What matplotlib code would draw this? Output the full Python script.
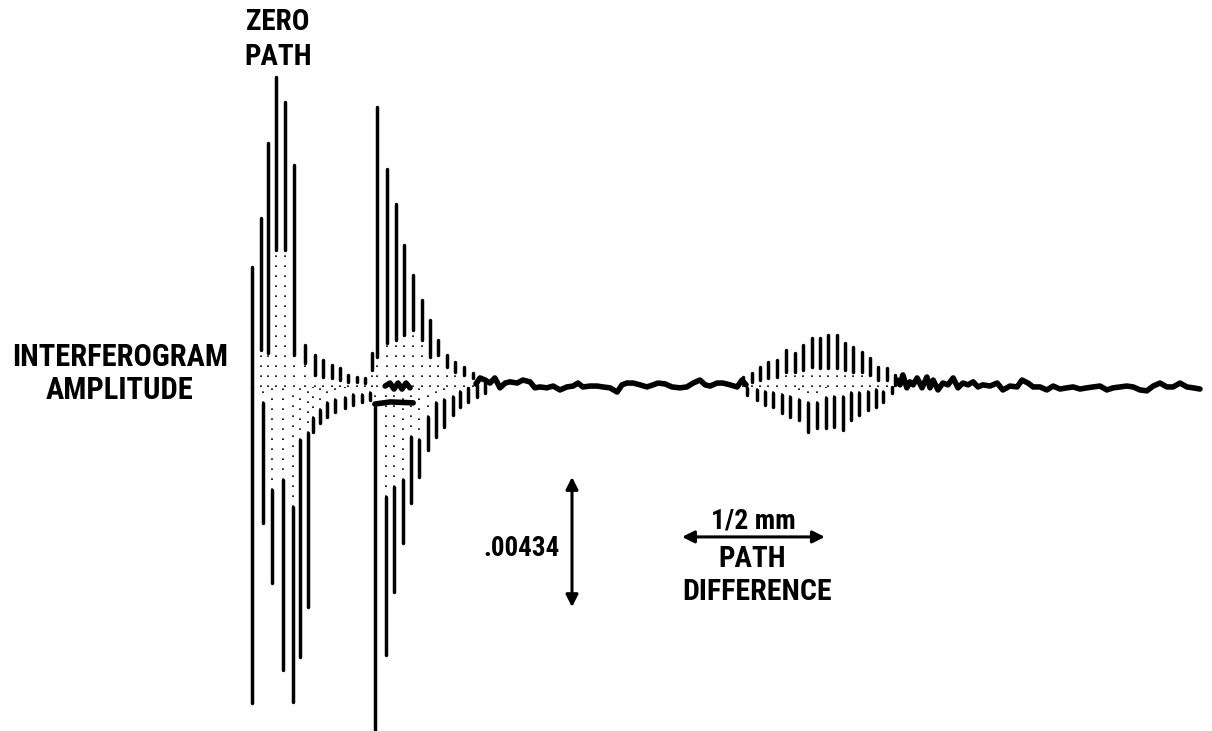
import matplotlib
matplotlib.use("Agg")
import matplotlib.pyplot as plt
from matplotlib import font_manager

# x: path difference in micrometres from zero path, y: amplitude in units of 0.001

# positive half of each fringe: position, peak, where the solid ink ends
up_x = [-84, -52, -28, 0, 32, 63,
        102, 136, 164, 196, 224, 252, 284, 312,
        336, 354, 388, 420, 448, 480, 511, 539, 567, 598, 626, 658, 690,
        1634, 1666, 1694, 1722, 1754, 1785, 1816, 1844, 1876, 1904, 1932,
        1964, 1992, 2020, 2051, 2079, 2107, 2138, 2166]
up_peak = [4.0, 5.63, 8.13, 10.33, 9.5, 7.4,
           1.4, 1.07, 0.9, 0.73, 0.63, 0.4, 0.33, 0.3,
           1.13, 9.33, 7.27, 6.1, 4.73, 3.73, 2.9, 2.23, 1.57, 1.07, 0.83, 0.67, 0.47,
           0.33, 0.47, 0.67, 0.83, 0.9, 1.23, 1.13, 1.4, 1.63, 1.63, 1.73,
           1.73, 1.47, 1.33, 1.17, 0.97, 0.67, 0.63, 0.4]
up_inner = [0.0, 1.23, 1.13, 4.57, 4.57, 1.07,
            0.8, 0.4, 0.33, 0.3, 0.23, 0.17, 0.17, 0.13,
            0.57, 1.0, 1.47, 1.57, 1.73, 1.9, 1.57, 1.0, 1.07, 0.67, 0.5, 0.4, 0.3,
            0.13, 0.17, 0.23, 0.3, 0.33, 0.5, 0.5, 0.57, 0.67, 0.63, 0.63,
            0.63, 0.57, 0.5, 0.5, 0.4, 0.23, 0.23, 0.07]

# negative half of each fringe
low_x = [-84, -46, -14, 24, 60, 84, 112,
         130, 154, 178, 206, 242, 270, 301, 329,
         346, 385, 413, 444, 472, 500, 532, 560, 588, 620, 644, 672, 704, 732,
         1648, 1684, 1712, 1740, 1771, 1799, 1830, 1862, 1894, 1925, 1953,
         1984, 2012, 2040, 2072, 2100, 2124, 2156]
low_trough = [-10.53, -4.53, -6.53, -9.43, -10.5, -9.0, -7.33,
              -1.5, -1.2, -1.0, -0.83, -0.7, -0.6, -0.5, -0.43,
              -11.43, -8.93, -6.83, -5.2, -3.87, -3.0, -2.1, -1.67, -1.33, -0.93, -0.67, -0.5, -0.33, -0.2,
              -0.27, -0.43, -0.6, -0.67, -0.87, -1.0, -1.1, -1.5, -1.37, -1.37, -1.33,
              -1.43, -1.1, -0.93, -0.77, -0.67, -0.5, -0.2]
low_inner = [0.0, -0.53, -3.43, -3.1, -4.0, -1.77, -1.53,
             -1.03, -0.77, -0.53, -0.43, -0.37, -0.27, -0.27, -0.2,
             -0.67, -3.67, -3.33, -3.1, -1.67, -1.77, -1.0, -0.53, -0.43, -0.33, -0.17, -0.03, 0.07, 0.17,
             -0.03, -0.1, -0.17, -0.2, -0.27, -0.33, -0.43, -0.53, -0.53, -0.37, -0.33,
             -0.33, -0.2, -0.2, -0.17, -0.1, -0.17, 0.0]

# pen trace where the fringes die out
wave_x = [382, 399, 413, 427, 441, 455, 469]
wave_y = [0.03, 0.13, -0.07, 0.13, -0.07, 0.13, -0.03]
dash_x = [346, 400, 480]
dash_y = [-0.57, -0.5, -0.53]

mid_x = [700, 714, 732, 749, 766, 784, 802, 819, 844, 864, 889, 906, 924, 948, 970,
         994, 1018, 1040, 1057, 1074, 1099, 1124, 1144, 1169, 1194, 1211, 1228, 1250,
         1274, 1298, 1320, 1337, 1362, 1386, 1414, 1438, 1460, 1484, 1502, 1519, 1544,
         1564, 1589, 1614, 1631, 1645]
mid_y = [0.1, 0.3, 0.23, 0.13, 0.3, -0.03, 0.13, 0.17, 0.13, 0.23, 0.17, -0.03, 0.0,
         -0.03, 0.03, -0.1, 0.0, 0.03, 0.13, 0.0, 0.03, 0.03, 0.0, -0.03, -0.17, 0.07,
         0.13, 0.13, 0.07, 0.0, 0.07, 0.13, 0.1, 0.0, -0.03, 0.0, 0.13, 0.23, 0.07, 0.03,
         0.13, 0.13, 0.07, 0.0, 0.23, 0.07]

end_x = [2174, 2184, 2194, 2208, 2219, 2230, 2244, 2261, 2278, 2289, 2300, 2317, 2334,
         2352, 2370, 2387, 2404, 2422, 2440, 2457, 2474, 2499, 2524, 2544, 2569, 2594,
         2611, 2632, 2650, 2674, 2698, 2720, 2744, 2768, 2790, 2814, 2838, 2860, 2884,
         2908, 2930, 2954, 2978, 3000, 3024, 3048, 3070, 3094, 3118, 3140, 3164, 3188,
         3210, 3234]
end_y = [0.23, 0.07, 0.4, -0.03, 0.17, 0.07, 0.3, -0.03, 0.33, -0.03, 0.23, -0.1, 0.13,
         0.07, 0.3, -0.03, 0.13, 0.07, 0.17, 0.0, 0.07, 0.03, 0.13, -0.1, 0.03, 0.0,
         0.23, 0.13, 0.0, 0.0, -0.1, 0.03, -0.07, -0.03, 0.0, -0.07, -0.03, 0.0, 0.03,
         -0.1, -0.03, 0.0, 0.03, 0.0, -0.1, -0.13, 0.03, 0.13, 0.0, 0.0, 0.13, 0.0,
         -0.03, -0.07]

amp_bar = 4.34      # 0.00434
path_bar = 500      # 1/2 mm

# narrowest installed sans for the condensed lettering of the original
installed = {f.name for f in font_manager.fontManager.ttflist}
font = next((f for f in ['DejaVu Sans Condensed', 'Roboto Condensed', 'Liberation Sans Narrow',
                         'Roboto', 'DejaVu Sans'] if f in installed), 'DejaVu Sans')

fig = plt.figure(figsize=(12.12, 7.31), dpi=100)
ax = fig.add_axes([0, 0, 1, 1])
ax.set_xlim(-966, 3276)
ax.set_ylim(-11.47, 12.9)
ax.axis('off')

# fringes: solid ink near the turning points, faint dots through the middle
ax.vlines(up_x, up_inner, up_peak, color='black', lw=2.5, capstyle='round')
ax.vlines(low_x, low_trough, low_inner, color='black', lw=2.5, capstyle='round')
ax.vlines(up_x, 0, up_inner, color='black', lw=1.2, linestyles=(0, (1, 5)))
ax.vlines(low_x, low_inner, 0, color='black', lw=1.2, linestyles=(0, (1, 5)))

for tx, ty in [(wave_x, wave_y), (dash_x, dash_y), (mid_x, mid_y), (end_x, end_y)]:
    ax.plot(tx, ty, color='black', lw=4, solid_capstyle='round', solid_joinstyle='round')

txt = dict(family=font, weight='bold', stretch='condensed', color='black', ha='center', va='center')
ax.text(7, 12.17, 'ZERO', fontsize=21, **txt)
ax.text(7, 11.0, 'PATH', fontsize=21, **txt)
ax.text(-546, 1.0, 'INTERFEROGRAM', fontsize=22, **txt)
ax.text(-546, -0.1, 'AMPLITUDE', fontsize=22, **txt)

# scale bars
arrow = dict(arrowstyle='<|-|>', color='black', lw=2.2, mutation_scale=18, shrinkA=0, shrinkB=0)
ax.annotate('', xy=(1036, -3.0), xytext=(1036, -3.0 - amp_bar), arrowprops=arrow)
ax.text(994, -5.4, '.00434', fontsize=19.5, **{**txt, 'ha': 'right'})

ax.annotate('', xy=(1421, -5.0), xytext=(1421 + path_bar, -5.0), arrowprops=arrow)
ax.text(1670, -4.47, '1/2 mm', fontsize=20, **txt)
ax.text(1666, -5.73, 'PATH', fontsize=21, **txt)
ax.text(1684, -6.83, 'DIFFERENCE', fontsize=21.5, **txt)

fig.savefig('out.png', dpi=100, facecolor='white')
